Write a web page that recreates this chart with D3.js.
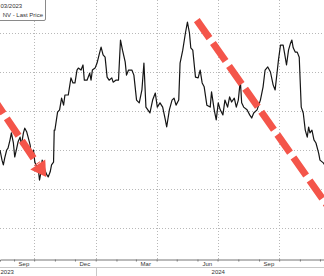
<!DOCTYPE html>
<html>
<head>
<meta charset="utf-8">
<script src="https://cdn.jsdelivr.net/npm/d3@7"></script>
<style>
  html, body { margin: 0; padding: 0; background: #fff; }
  svg { display: block; font-family: "Liberation Sans", Arial, sans-serif; }
</style>
</head>
<body>
<svg id="chart" width="324" height="276"></svg>
<script>
// ---- data ----
const startDate = "2023-08-11";
// days since startDate
const dayOffsets = [0,3,5,7,10,12,15,17,20,22,25,27,30,32,35,37,40,42,45,47,50,52,55,57,59,61,63,65,67,70,72,75,77,80,81,82,86,89,92,95,97,102,106,109,112,115,117,121,124,126,130,134,136,138,142,145,148,151,154,157,160,163,167,169,173,177,180,183,187,189,192,197,200,204,208,212,215,218,224,228,232,235,239,243,247,249,253,257,260,263,267,269,273,277,280,283,285,288,292,296,299,302,305,309,314,316,320,323,326,329,333,336,340,343,346,350,353,356,359,361,364,369,373,376,379,384,389,393,396,400,404,408,411,414,416,419,423,425,428,431,434,436,438,441,444,447,450,453,456,459,461,463,466,469,472,476,478,483,486];
const prices = [3.00,2.74,2.62,2.79,3.00,3.05,3.26,3.44,3.18,2.82,3.05,3.21,3.33,3.13,3.44,3.56,3.46,3.33,3.13,2.82,3.00,2.69,2.56,2.54,2.23,2.41,2.74,2.62,2.49,2.36,2.31,2.44,2.62,2.69,3.51,3.51,3.97,4.03,4.33,4.15,4.41,4.41,4.85,4.72,4.72,5.05,5.10,5.05,5.18,4.79,4.79,4.97,4.79,5.05,5.10,5.23,5.44,5.64,5.44,5.38,4.87,4.79,4.85,4.74,4.79,4.79,5.82,5.56,5.26,4.92,5.05,5.05,4.92,4.28,4.21,4.54,5.23,4.10,3.95,4.28,4.46,4.10,4.21,4.10,3.77,3.59,4.03,4.28,4.33,4.15,4.28,5.23,5.56,6.00,6.28,6.00,5.62,5.56,4.87,4.85,5.05,4.72,4.62,4.15,4.10,4.49,4.03,3.77,4.21,4.03,3.90,4.28,4.10,4.36,4.23,4.33,4.10,4.28,4.79,4.21,4.10,4.03,3.90,3.82,3.95,4.03,4.28,4.62,5.05,5.13,5.00,4.67,4.54,5.00,5.31,5.69,5.69,5.49,5.18,5.56,5.74,5.82,5.62,5.51,5.51,5.38,4.10,3.95,3.51,3.33,3.59,3.44,3.51,3.26,3.18,2.92,2.74,2.67,2.59];

const gridValues = [1, 2, 3, 4, 5, 6];
const quarterDates = ["2023-10-01", "2024-01-01", "2024-04-01", "2024-07-01", "2024-10-01"];
const monthLabelDates = ["2023-09-15", "2023-12-15", "2024-03-15", "2024-06-15", "2024-09-15"];
const yearLabels = ["2023", "2024"];
const yearLabelDates = ["2023-08-11", "2024-07-02"];
const yearLabelAnchors = ["start", "middle"];
const yearBoundary = "2024-01-01";
const legendLines = ["03/2023", "NV - Last Price"];

// annotation arrows, in data space: [dayOffset, price]
const arrow1 = [[-9, 4.30], [56, 2.64], [69, 2.31]]; // shaft start, shaft end, tip
const arrow2 = [[294, 6.33], [494, 1.45]];

// ---- drawing ----
const W = 324, H = 276;
const parse = d3.timeParse("%Y-%m-%d");
const t0 = parse(startDate);
const dayToDate = d => d3.timeDay.offset(t0, d);

const x = d3.scaleTime().domain([t0, dayToDate(484)]).range([0, W]);
const y = d3.scaleLinear().domain([1, 6]).range([228, 33]);
const axisY = 259;

const svg = d3.select("#chart");
svg.append("rect").attr("width", W).attr("height", H).attr("fill", "#fff");

// horizontal gridlines
svg.append("g").selectAll("line").data(gridValues).join("line")
  .attr("x1", 0).attr("x2", W)
  .attr("y1", d => Math.round(y(d)) + 0.5).attr("y2", d => Math.round(y(d)) + 0.5)
  .attr("stroke", "#b8b8b8").attr("stroke-width", 1).attr("stroke-dasharray", "1,2");

// vertical gridlines
svg.append("g").selectAll("line").data(quarterDates.map(parse)).join("line")
  .attr("x1", d => Math.round(x(d)) + 0.5).attr("x2", d => Math.round(x(d)) + 0.5)
  .attr("y1", 0).attr("y2", axisY)
  .attr("stroke", "#b8b8b8").attr("stroke-width", 1).attr("stroke-dasharray", "1,2");

// price line
const series = dayOffsets.map((d, i) => ({ date: dayToDate(d), v: prices[i] }));
svg.append("path").datum(series)
  .attr("fill", "none").attr("stroke", "#151515").attr("stroke-width", 1.2)
  .attr("stroke-linejoin", "round")
  .attr("d", d3.line().x(d => x(d.date)).y(d => y(d.v)));

// x axis: month ticks
const axisG = svg.append("g").attr("transform", `translate(0,${axisY + 0.5})`)
  .call(d3.axisBottom(x).ticks(d3.timeMonth.every(1)).tickSize(2).tickFormat(""));
axisG.select(".domain").attr("stroke", "#777");
axisG.selectAll(".tick line").attr("stroke", "#777");

// month labels
const labG = svg.append("g").attr("transform", `translate(0,${axisY})`)
  .call(d3.axisBottom(x).tickValues(monthLabelDates.map(parse)).tickSize(0).tickPadding(3)
    .tickFormat(d3.timeFormat("%b")));
labG.select(".domain").remove();
labG.selectAll("text").attr("font-size", 6).attr("fill", "#333")
  .attr("font-family", "Liberation Sans, Arial, sans-serif");

// year row
svg.append("line").attr("x1", 0).attr("x2", W).attr("y1", 267.5).attr("y2", 267.5)
  .attr("stroke", "#c8c8c8");
const yb = Math.round(x(parse(yearBoundary))) + 0.5;
svg.append("line").attr("x1", yb).attr("x2", yb).attr("y1", 267).attr("y2", H)
  .attr("stroke", "#c8c8c8");
svg.append("g").selectAll("text").data(yearLabels).join("text")
  .attr("x", (d, i) => x(parse(yearLabelDates[i])) + (i === 0 ? 0.5 : 0))
  .attr("y", 274).attr("text-anchor", (d, i) => yearLabelAnchors[i])
  .attr("font-size", 6).attr("fill", "#333").text(d => d);

// red dashed annotation arrows
const red = "#f4554a";
const pt = p => [x(dayToDate(p[0])), y(p[1])];
const a1s = pt(arrow1[0]), a1e = pt(arrow1[1]), a1t = pt(arrow1[2]);
svg.append("line")
  .attr("x1", a1s[0]).attr("y1", a1s[1]).attr("x2", a1e[0]).attr("y2", a1e[1])
  .attr("stroke", red).attr("stroke-width", 7).attr("stroke-dasharray", "21,6")
  .attr("stroke-dashoffset", 4);
// arrow head
{
  const dx = a1t[0] - a1e[0], dy = a1t[1] - a1e[1];
  const len = Math.hypot(dx, dy);
  const ux = dx / len, uy = dy / len;
  const base = [a1t[0] - ux * 15, a1t[1] - uy * 15];
  const hw = 9;
  const p1 = [base[0] - uy * hw, base[1] + ux * hw];
  const p2 = [base[0] + uy * hw, base[1] - ux * hw];
  svg.append("path")
    .attr("d", `M${p1[0]},${p1[1]}L${a1t[0]},${a1t[1]}L${p2[0]},${p2[1]}Z`)
    .attr("fill", red);
}
const a2s = pt(arrow2[0]), a2e = pt(arrow2[1]);
svg.append("line")
  .attr("x1", a2s[0]).attr("y1", a2s[1]).attr("x2", a2e[0]).attr("y2", a2e[1])
  .attr("stroke", red).attr("stroke-width", 7).attr("stroke-dasharray", "22,6");

// legend box (cropped at top-left)
svg.append("rect").attr("x", -20.5).attr("y", -10.5).attr("width", 66).attr("height", 31)
  .attr("rx", 1.5).attr("fill", "#fff").attr("stroke", "#8a8a8a");
svg.append("text").attr("x", 0.5).attr("y", 7.5).attr("text-anchor", "start")
  .attr("font-size", 6).attr("fill", "#333").text(legendLines[0]);
svg.append("text").attr("x", 43).attr("y", 16.5).attr("text-anchor", "end")
  .attr("font-size", 6).attr("fill", "#333").text(legendLines[1]);
</script>
</body>
</html>
